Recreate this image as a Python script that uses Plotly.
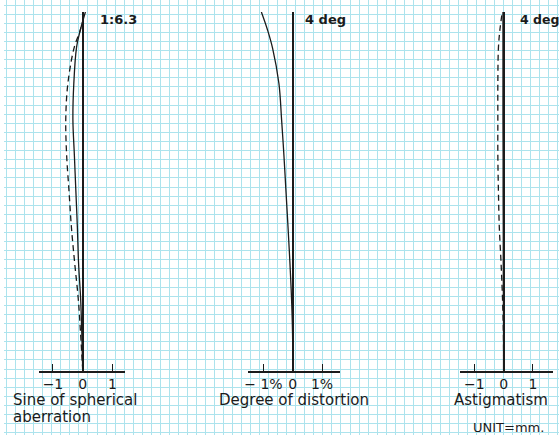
import plotly.graph_objects as go

# ---------------- data ----------------
# relative aperture height (0..1) for spherical aberration panel
sph_heights = [0, 0.1, 0.2, 0.3, 0.4, 0.5, 0.6, 0.7, 0.8, 0.9, 0.95, 1.0]
sph_aberration = [0, -0.03, -0.07, -0.14, -0.18, -0.23, -0.28, -0.33, -0.30, -0.21, -0.08, 0.09]
sine_heights = [0, 0.1, 0.2, 0.3, 0.4, 0.5, 0.6, 0.7, 0.8, 0.9, 0.95, 0.97]
sine_condition = [0, -0.07, -0.15, -0.27, -0.38, -0.46, -0.54, -0.57, -0.50, -0.29, -0.08, -0.03]

# field angle (deg) for distortion & astigmatism panels
field_deg = [0, 0.4, 0.8, 1.2, 1.6, 2.0, 2.4, 2.8, 3.2, 3.6, 3.8, 4.0]
distortion_pct = [0, -0.005, -0.04, -0.095, -0.16, -0.23, -0.30, -0.38, -0.47, -0.69, -0.86, -1.07]
astig_meridional = [0, -0.01, -0.04, -0.09, -0.15, -0.18, -0.20, -0.20, -0.20, -0.18, -0.13, -0.05]
astig_sagittal = [0, 0, -0.005, -0.01, -0.01, -0.015, -0.015, -0.02, -0.02, -0.02, -0.02, -0.02]

mm_ticks = [-1, 0, 1]
mm_ticktext = ["\u22121", "0", "1"]
pct_ticktext = ["\u2212 1%", "0", "1%"]

# ---------------- figure ----------------
W, H = 559, 435
INK = "#1b1b1b"
GRID = "rgb(172,227,237)"

fig = go.Figure()

# background graph paper subplot (first, so it sits beneath everything)
fig.add_trace(go.Scatter(x=[None], y=[None], xaxis="x", yaxis="y",
                         showlegend=False, hoverinfo="skip"))

line_solid = dict(color=INK, width=1.3)
line_dash = dict(color=INK, width=1.3, dash="6px,4px")

fig.add_trace(go.Scatter(x=sine_condition, y=sine_heights, xaxis="x2", yaxis="y2",
                         mode="lines", line=line_dash, line_shape="spline",
                         showlegend=False, cliponaxis=False))
fig.add_trace(go.Scatter(x=sph_aberration, y=sph_heights, xaxis="x2", yaxis="y2",
                         mode="lines", line=line_solid, line_shape="spline",
                         showlegend=False, cliponaxis=False))
fig.add_trace(go.Scatter(x=distortion_pct, y=field_deg, xaxis="x3", yaxis="y3",
                         mode="lines", line=line_solid, line_shape="spline",
                         showlegend=False, cliponaxis=False))
fig.add_trace(go.Scatter(x=astig_meridional, y=field_deg, xaxis="x4", yaxis="y4",
                         mode="lines", line=line_dash, line_shape="spline",
                         showlegend=False, cliponaxis=False))
fig.add_trace(go.Scatter(x=astig_sagittal, y=field_deg, xaxis="x4", yaxis="y4",
                         mode="lines", line=dict(color=INK, width=1.6), line_shape="spline",
                         showlegend=False, cliponaxis=False))

Y_BOT, Y_TOP = 370.7, 12.0
ydom = [(H - Y_BOT) / H, (H - Y_TOP) / H]
TICKFONT = dict(family="DejaVu Sans", size=14, color=INK)


def panel_x(left_px, right_px, zero_px, px_per_unit, ticktext):
    return dict(domain=[left_px / W, right_px / W],
                range=[(left_px - zero_px) / px_per_unit, (right_px - zero_px) / px_per_unit],
                showline=True, linecolor=INK, linewidth=1.7,
                ticks="inside", ticklen=7, tickwidth=1.4, tickcolor=INK,
                tickvals=mm_ticks, ticktext=ticktext, tickfont=TICKFONT,
                showgrid=False, zeroline=False, fixedrange=True)


def panel_y(zero_px, rng):
    return dict(domain=ydom, range=rng, anchor="free", position=zero_px / W,
                showline=True, linecolor=INK, linewidth=1.6,
                showticklabels=False, ticks="", showgrid=False, zeroline=False,
                fixedrange=True)


layout = dict(
    width=W, height=H, autosize=False,
    margin=dict(l=0, r=0, t=0, b=0, pad=0),
    paper_bgcolor="white", plot_bgcolor="rgba(0,0,0,0)",
    showlegend=False,
    xaxis=dict(domain=[0, 1], range=[0, W], anchor="y", showgrid=True, gridcolor=GRID,
               gridwidth=1, tick0=2.7, dtick=9.1, showticklabels=False, ticks="",
               zeroline=False, showline=False, fixedrange=True),
    yaxis=dict(domain=[0, 1], range=[H, 0], anchor="x", showgrid=True, gridcolor=GRID,
               gridwidth=1, tick0=5.0, dtick=9.1, showticklabels=False, ticks="",
               zeroline=False, showline=False, fixedrange=True),
    xaxis2=dict(anchor="y2", **panel_x(35, 122, 79.3, 30.0, mm_ticktext)),
    yaxis2=panel_y(79.3, [0, 1]),
    xaxis3=dict(anchor="y3", **panel_x(246, 338, 290.8, 29.5, pct_ticktext)),
    yaxis3=panel_y(290.8, [0, 4]),
    xaxis4=dict(anchor="y4", **panel_x(459, 552.7, 503.3, 29.5, mm_ticktext)),
    yaxis4=panel_y(503.3, [0, 4]),
)
fig.update_layout(**layout)


def label(text, x_px, y_px, size, bold=False, xanchor="center"):
    fig.add_annotation(
        text=f"<b>{text}</b>" if bold else text,
        x=x_px / W, y=1 - y_px / H, xref="paper", yref="paper",
        xanchor=xanchor, yanchor="middle", showarrow=False, borderpad=0,
        font=dict(family="DejaVu Sans", size=size, color=INK))


label("1:6.3", 96, 19, 13, bold=True, xanchor="left")
label("4 deg", 302, 19, 13, bold=True, xanchor="left")
label("4 deg", 519, 19, 12.5, bold=True, xanchor="left")
label("Sine of spherical", 8, 400, 15, xanchor="left")
label("aberration", 8, 417, 15, xanchor="left")
label("Degree of distortion", 292, 400, 15)
label("Astigmatism", 501, 400, 15)
label("UNIT=mm.", 471, 427, 13, xanchor="left")

fig.write_html("out.html", config={"displayModeBar": False},
               post_script="document.body.style.margin='0';document.body.style.overflow='hidden';")
